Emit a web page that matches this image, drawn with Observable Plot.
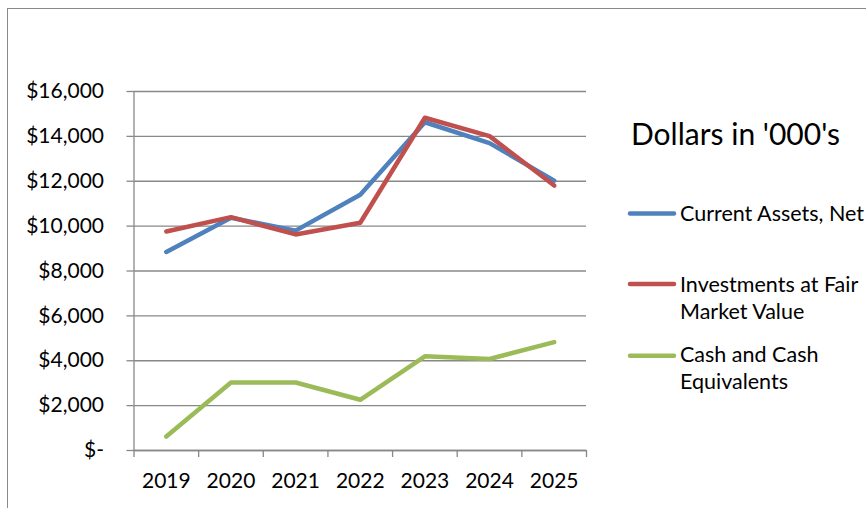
<!DOCTYPE html>
<html>
<head>
<meta charset="utf-8">
<script src="https://cdn.jsdelivr.net/npm/d3@7"></script>
<script src="https://cdn.jsdelivr.net/npm/@observablehq/plot@0.6"></script>
<style>
  html, body { margin: 0; padding: 0; background: #fff; overflow: hidden; }
  #wrap { position: relative; width: 866px; height: 508px; overflow: hidden; }
  #frame { position: absolute; left: 7px; top: 8px; width: 900px; height: 540px;
           border: 1px solid #8a8a8a; box-sizing: border-box; pointer-events: none; }
  #chart { position: absolute; left: 0; top: 0; }
</style>
</head>
<body>
<div id="wrap"><div id="chart"></div><div id="frame"></div></div>
<script>
// Fiscal years on the category axis
const years = [2019, 2020, 2021, 2022, 2023, 2024, 2025];

// Series values, dollars in thousands
const currentAssets = [8850, 10370, 9800, 11400, 14630, 13700, 12030];
const investments   = [9760, 10400, 9630, 10150, 14830, 14010, 11810];
const cash          = [620, 3030, 3030, 2260, 4200, 4080, 4830];

const seriesNames  = ["Current Assets, Net", "Investments at Fair Market Value", "Cash and Cash Equivalents"];
const seriesColors = ["#4F81BD", "#C0504D", "#9BBB59"];
const legendLines  = [["Current Assets, Net"], ["Investments at Fair", "Market Value"], ["Cash and Cash", "Equivalents"]];
const legendTitle  = "Dollars in '000's";

// Value axis ticks
const yTicks = [0, 2000, 4000, 6000, 8000, 10000, 12000, 14000, 16000];

const FONT = "Lato, 'Open Sans', sans-serif";
const GRID = "#888888";
const AXIS_FONT = 21;

// Long table: one row per series and year
const seriesValues = [currentAssets, investments, cash];
const rows = seriesNames.flatMap((name, s) =>
  years.map((year, i) => ({series: name, year, value: seriesValues[s][i]})));

// Category boundaries (tick marks sit between the years)
const boundaries = d3.range(years.length + 1).map(i => years[0] - 0.5 + i);

const money = d => d === 0 ? "$-" : "$" + d3.format(",")(d);

const plot = Plot.plot({
  width: 866,
  height: 508,
  marginLeft: 133.5,
  marginRight: 280,
  marginTop: 91,
  marginBottom: 58,
  style: {fontFamily: FONT, fontSize: AXIS_FONT + "px", color: "#000", background: "transparent"},
  x: {type: "linear", domain: [boundaries[0], boundaries[boundaries.length - 1]]},
  y: {domain: [0, 16000]},
  color: {domain: seriesNames, range: seriesColors},
  marks: [
    Plot.gridY(yTicks, {stroke: GRID, strokeOpacity: 1, strokeWidth: 1.3}),
    Plot.axisY({ticks: yTicks, tickSize: 7, tickPadding: 23, tickFormat: money,
                stroke: GRID, strokeWidth: 1.3, label: null, fontSize: AXIS_FONT}),
    Plot.axisX({ticks: boundaries, tickSize: 7, tickFormat: () => "",
                stroke: GRID, strokeWidth: 1.3, label: null}),
    Plot.axisX({ticks: years, tickSize: 0, tickPadding: 23, tickFormat: d => String(d),
                label: null, fontSize: AXIS_FONT}),
    Plot.ruleX([boundaries[0]], {stroke: GRID, strokeWidth: 1.3}),
    Plot.ruleY([0], {stroke: GRID, strokeWidth: 1.3}),
    Plot.line(rows, {x: "year", y: "value", z: "series", stroke: "series",
                     strokeWidth: 4.5, strokeLinecap: "round", strokeLinejoin: "round"})
  ]
});
document.getElementById("chart").append(plot);

// Legend on the right: title, then a line swatch and label for each series
const svg = d3.select(plot);
const legend = svg.append("g").attr("font-family", FONT).attr("fill", "#000").attr("text-anchor", "start");
legend.append("text").attr("x", 631).attr("y", 145).attr("font-size", 30).text(legendTitle);
const swatchY = [213.5, 284, 355.7];
const firstBaseline = [220.7, 291.7, 361.7];
seriesNames.forEach((name, i) => {
  legend.append("line")
    .attr("x1", 630).attr("x2", 674).attr("y1", swatchY[i]).attr("y2", swatchY[i])
    .attr("stroke", seriesColors[i]).attr("stroke-width", 4.5).attr("stroke-linecap", "round");
  legendLines[i].forEach((t, j) => {
    legend.append("text").attr("x", 680).attr("y", firstBaseline[i] + j * 27.6)
      .attr("font-size", 21.5).text(t);
  });
});
</script>
</body>
</html>
